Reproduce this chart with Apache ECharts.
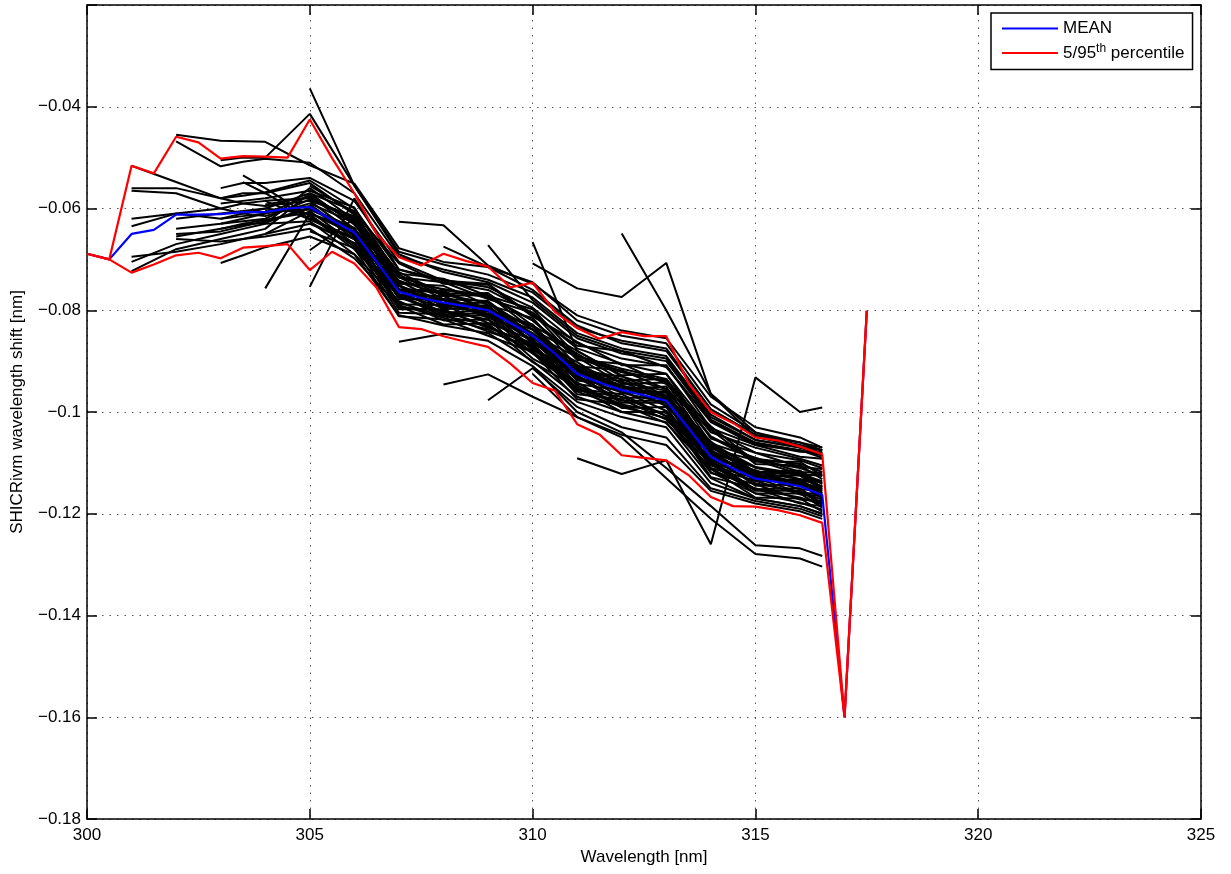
<!DOCTYPE html>
<html>
<head>
<meta charset="utf-8">
<script src="https://cdn.jsdelivr.net/npm/echarts@6.0.0/dist/echarts.min.js"></script>
<style>
html,body{margin:0;padding:0;background:#fff;}
#chart{width:1231px;height:874px;}
</style>
</head>
<body>
<div id="chart"></div>
<script>
const FONT = '"Liberation Sans", Arial, Helvetica, sans-serif';

// Axis ticks and labels
const xTicks = [300, 305, 310, 315, 320, 325];
const yTicks = [-0.18, -0.16, -0.14, -0.12, -0.1, -0.08, -0.06, -0.04];
const yTickLabels = ['\u22120.18', '\u22120.16', '\u22120.14', '\u22120.12', '\u22120.1', '\u22120.08', '\u22120.06', '\u22120.04'];
const yUpper = -0.02;

// Statistics (mean, 5th and 95th percentile)
const statWavelengths = [300, 300.5, 301, 301.5, 302, 302.5, 303, 303.5, 304, 304.5, 305, 305.5, 306, 306.5, 307, 307.5, 308, 308.5, 309, 309.5, 310, 310.5, 311, 311.5, 312, 312.5, 313, 313.5, 314, 314.5, 315, 315.5, 316, 316.5, 317, 317.5];
const meanShift = [-0.0689, -0.0700, -0.0650, -0.0642, -0.0612, -0.0612, -0.0611, -0.0607, -0.0607, -0.0600, -0.0597, -0.0623, -0.0647, -0.0705, -0.0764, -0.0776, -0.0785, -0.0792, -0.0800, -0.0825, -0.0850, -0.0885, -0.0925, -0.0942, -0.0957, -0.0967, -0.0978, -0.1032, -0.1088, -0.1111, -0.1131, -0.1138, -0.1146, -0.1163, -0.1600, -0.0801];
const pct95Shift = [-0.0689, -0.0700, -0.0516, -0.0531, -0.0459, -0.0470, -0.0502, -0.0497, -0.0498, -0.0500, -0.0425, -0.0501, -0.0570, -0.0650, -0.0696, -0.0712, -0.0689, -0.0703, -0.0714, -0.0755, -0.0746, -0.0803, -0.0835, -0.0856, -0.0843, -0.0851, -0.0851, -0.0944, -0.1000, -0.1022, -0.1050, -0.1056, -0.1068, -0.1083, -0.1600, -0.0801];
const pct5Shift = [-0.0689, -0.0700, -0.0726, -0.0710, -0.0692, -0.0687, -0.0698, -0.0677, -0.0674, -0.0670, -0.0721, -0.0685, -0.0708, -0.0756, -0.0833, -0.0837, -0.0851, -0.0862, -0.0872, -0.0905, -0.0943, -0.0958, -0.1024, -0.1044, -0.1085, -0.1090, -0.1095, -0.1124, -0.1167, -0.1185, -0.1186, -0.1193, -0.1203, -0.1218, -0.1600, -0.0801];

// Individual runs (black)
const runWavelengths = [301, 302, 303, 303.5, 304, 305, 306, 307, 308, 309, 310, 311, 312, 313, 314, 315, 316, 316.5];
const run01 = [null, null, -0.0560, -0.0550, -0.0550, -0.0540, -0.0585, -0.0705, -0.0742, -0.0748, -0.0810, -0.0870, -0.0880, -0.0912, -0.1018, -0.1062, -0.1078, -0.1080];
const run02 = [null, null, -0.0580, -0.0570, -0.0570, -0.0550, -0.0612, -0.0728, -0.0738, -0.0772, -0.0798, -0.0890, -0.0915, -0.0935, -0.1040, -0.1070, -0.1092, -0.1105];
const run03 = [-0.0705, -0.0670, -0.0650, -0.0640, -0.0630, -0.0560, -0.0622, -0.0725, -0.0768, -0.0766, -0.0830, -0.0880, -0.0928, -0.0925, -0.1052, -0.1080, -0.1108, -0.1112];
const run04 = [-0.0723, -0.0680, -0.0660, -0.0650, -0.0640, -0.0570, -0.0605, -0.0748, -0.0752, -0.0790, -0.0815, -0.0910, -0.0918, -0.0955, -0.1035, -0.1102, -0.1105, -0.1132];
const run05 = [-0.0620, -0.0610, -0.0620, -0.0615, -0.0610, -0.0575, -0.0640, -0.0735, -0.0778, -0.0782, -0.0848, -0.0892, -0.0945, -0.0942, -0.1072, -0.1095, -0.1122, -0.1126];
const run06 = [-0.0635, -0.0610, -0.0600, -0.0590, -0.0585, -0.0580, -0.0618, -0.0760, -0.0765, -0.0800, -0.0828, -0.0918, -0.0930, -0.0968, -0.1058, -0.1118, -0.1115, -0.1142];
const run07 = [-0.0560, -0.0560, -0.0580, -0.0590, -0.0595, -0.0585, -0.0650, -0.0742, -0.0788, -0.0785, -0.0855, -0.0902, -0.0955, -0.0950, -0.1080, -0.1108, -0.1132, -0.1138];
const run08 = [-0.0565, -0.0570, -0.0600, -0.0610, -0.0615, -0.0590, -0.0628, -0.0770, -0.0772, -0.0808, -0.0838, -0.0925, -0.0940, -0.0978, -0.1068, -0.1125, -0.1125, -0.1152];
const run09 = [null, -0.0640, -0.0630, -0.0620, -0.0610, -0.0595, -0.0660, -0.0752, -0.0798, -0.0792, -0.0865, -0.0912, -0.0962, -0.0962, -0.1092, -0.1115, -0.1142, -0.1146];
const run10 = [null, -0.0650, -0.0645, -0.0635, -0.0625, -0.0600, -0.0638, -0.0778, -0.0780, -0.0815, -0.0845, -0.0935, -0.0948, -0.0988, -0.1075, -0.1135, -0.1132, -0.1160];
const run11 = [-0.0695, -0.0685, -0.0670, -0.0660, -0.0650, -0.0605, -0.0670, -0.0762, -0.0805, -0.0800, -0.0875, -0.0922, -0.0972, -0.0972, -0.1100, -0.1125, -0.1152, -0.1155];
const run12 = [null, null, -0.0620, -0.0610, -0.0600, -0.0610, -0.0648, -0.0788, -0.0790, -0.0825, -0.0858, -0.0945, -0.0958, -0.0998, -0.1085, -0.1145, -0.1142, -0.1170];
const run13 = [null, null, null, -0.0535, -0.0560, -0.0615, -0.0680, -0.0772, -0.0812, -0.0810, -0.0885, -0.0932, -0.0982, -0.0982, -0.1110, -0.1135, -0.1162, -0.1165];
const run14 = [null, null, null, -0.0548, -0.0570, -0.0620, -0.0658, -0.0798, -0.0798, -0.0835, -0.0865, -0.0955, -0.0965, -0.1008, -0.1095, -0.1152, -0.1150, -0.1180];
const run15 = [null, null, null, null, -0.0630, -0.0625, -0.0690, -0.0782, -0.0820, -0.0818, -0.0895, -0.0942, -0.0992, -0.0990, -0.1120, -0.1142, -0.1172, -0.1175];
const run16 = [null, null, null, null, -0.0650, -0.0630, -0.0668, -0.0805, -0.0808, -0.0842, -0.0872, -0.0965, -0.0975, -0.1015, -0.1102, -0.1160, -0.1160, -0.1188];
const run17 = [null, -0.0660, -0.0665, -0.0660, -0.0655, -0.0640, -0.0698, -0.0792, -0.0828, -0.0826, -0.0902, -0.0952, -0.1000, -0.1000, -0.1128, -0.1150, -0.1180, -0.1185];
const run18 = [null, null, null, null, null, -0.0645, -0.0678, -0.0812, -0.0818, -0.0850, -0.0882, -0.0975, -0.0985, -0.1022, -0.1112, -0.1168, -0.1170, -0.1196];
const run19 = [null, null, -0.0590, -0.0585, -0.0580, -0.0565, -0.0598, -0.0735, -0.0745, -0.0778, -0.0805, -0.0898, -0.0905, -0.0945, -0.1028, -0.1098, -0.1098, -0.1125];
const run20 = [null, -0.0620, -0.0610, -0.0605, -0.0600, -0.0570, -0.0632, -0.0730, -0.0772, -0.0770, -0.0838, -0.0885, -0.0938, -0.0935, -0.1062, -0.1090, -0.1118, -0.1120];
const run21 = [null, null, -0.0630, -0.0625, -0.0620, -0.0582, -0.0622, -0.0758, -0.0762, -0.0798, -0.0832, -0.0920, -0.0935, -0.0972, -0.1065, -0.1120, -0.1120, -0.1148];
const run22 = [null, null, null, null, null, -0.0592, -0.0655, -0.0750, -0.0792, -0.0790, -0.0862, -0.0908, -0.0960, -0.0960, -0.1088, -0.1115, -0.1145, -0.1148];
const run23 = [null, null, null, null, -0.0605, -0.0602, -0.0640, -0.0776, -0.0780, -0.0812, -0.0850, -0.0938, -0.0950, -0.0988, -0.1078, -0.1135, -0.1135, -0.1162];
const run24 = [null, null, null, null, null, -0.0612, -0.0675, -0.0770, -0.0808, -0.0806, -0.0878, -0.0928, -0.0978, -0.0978, -0.1105, -0.1130, -0.1158, -0.1162];
const run25 = [null, null, null, null, -0.0585, -0.0622, -0.0660, -0.0795, -0.0800, -0.0832, -0.0870, -0.0958, -0.0970, -0.1008, -0.1098, -0.1155, -0.1155, -0.1182];
const run26 = [null, null, null, null, null, -0.0555, -0.0608, -0.0708, -0.0748, -0.0750, -0.0812, -0.0862, -0.0908, -0.0908, -0.1032, -0.1065, -0.1088, -0.1092];
const run27 = [null, -0.0455, -0.0467, -0.0468, -0.0469, -0.0515, -0.0551, -0.0678, -0.0705, -0.0715, -0.0745, -0.0820, -0.0850, -0.0865, -0.0985, -0.1040, -0.1060, -0.1070];
const run28 = [null, -0.0468, -0.0517, -0.0508, -0.0502, -0.0510, -0.0570, -0.0695, -0.0720, -0.0740, -0.0775, -0.0845, -0.0875, -0.0890, -0.1005, -0.1055, -0.1070, -0.1080];
const run29 = [-0.0516, -0.0548, -0.0580, -0.0575, -0.0568, -0.0545, -0.0600, -0.0720, -0.0740, -0.0755, -0.0795, -0.0865, -0.0895, -0.0910, -0.1020, -0.1065, -0.1075, -0.1090];
const run30 = [null, null, -0.0505, -0.0500, -0.0500, -0.0414, -0.0555, -0.0685, -0.0710, -0.0730, -0.0765, -0.0835, -0.0860, -0.0875, -0.0995, -0.1045, -0.1060, -0.1075];
const run31 = [null, null, null, null, null, -0.0364, -0.0555, -0.0690, -0.0725, -0.0745, -0.0785, -0.0855, -0.0885, -0.0900, -0.1015, -0.1060, -0.1075, -0.1085];
const run32 = [null, null, null, null, -0.0757, -0.0610, -0.0640, -0.0760, -0.0780, -0.0795, -0.0850, -0.0920, -0.0950, -0.0970, -0.1080, -0.1125, -0.1140, -0.1155];
const run33 = [null, null, null, null, null, -0.0754, -0.0580, -0.0720, -0.0745, -0.0760, -0.0805, -0.0875, -0.0905, -0.0925, -0.1035, -0.1080, -0.1095, -0.1110];
const run34 = [null, null, null, null, null, -0.0682, -0.0620, -0.0735, -0.0760, -0.0775, -0.0820, -0.0890, -0.0920, -0.0940, -0.1050, -0.1095, -0.1110, -0.1125];
const run35 = [null, null, null, null, null, null, null, -0.0626, -0.0633, -0.0712, -0.0748, -0.0810, -0.0840, -0.0855, -0.0970, -0.1030, -0.1050, -0.1070];
const run36 = [null, null, null, null, null, null, null, null, -0.0675, -0.0715, -0.0760, -0.0830, -0.0865, -0.0880, -0.0995, -0.1045, -0.1065, -0.1075];
const run37 = [null, null, null, null, null, null, null, null, null, -0.0672, -0.0780, -0.0850, -0.0880, -0.0895, -0.1010, -0.1055, -0.1070, -0.1085];
const run38 = [null, null, null, null, null, null, null, null, null, null, -0.0666, -0.0880, -0.0930, -0.0955, -0.1065, -0.1110, -0.1125, -0.1140];
const run39 = [null, null, null, null, null, null, null, null, null, null, -0.0708, -0.0757, -0.0774, -0.0707, -0.0965, -0.1049, -0.1068, -0.1075];
const run40 = [null, null, null, null, null, null, null, null, null, null, null, null, -0.0649, -0.0800, -0.0964, -0.1040, -0.1070, -0.1080];
const run41 = [null, null, null, null, null, null, null, -0.0862, -0.0846, -0.0860, -0.0910, -0.0980, -0.1010, -0.1030, -0.1140, -0.1170, -0.1185, -0.1200];
const run42 = [null, null, null, null, null, null, null, null, -0.0946, -0.0926, -0.0970, -0.1010, -0.1045, -0.1065, -0.1155, -0.1180, -0.1195, -0.1210];
const run43 = [null, null, null, null, null, null, null, null, null, -0.0977, -0.0914, -0.0990, -0.1030, -0.1050, -0.1150, -0.1175, -0.1190, -0.1205];
const run44 = [null, null, null, null, null, null, null, null, null, null, null, -0.1091, -0.1122, -0.1095, -0.1260, -0.0932, -0.1000, -0.0991];
const run45 = [null, null, null, null, null, null, null, null, null, null, -0.0910, -0.1000, -0.1040, -0.1110, -0.1185, -0.1262, -0.1268, -0.1283];
const run46 = [null, null, null, null, null, null, null, null, null, null, -0.0925, -0.1010, -0.1050, -0.1130, -0.1210, -0.1279, -0.1288, -0.1304];
const run47 = [null, null, -0.0707, -0.0692, -0.0676, -0.0655, -0.0690, -0.0810, -0.0830, -0.0845, -0.0900, -0.0970, -0.1000, -0.1020, -0.1130, -0.1170, -0.1185, -0.1200];
const run48 = [null, null, null, null, null, -0.0600, -0.0645, -0.0790, -0.0815, -0.0838, -0.0880, -0.0960, -0.0990, -0.1012, -0.1118, -0.1160, -0.1178, -0.1192];
const run49 = [null, null, null, null, null, -0.0585, -0.0615, -0.0745, -0.0758, -0.0772, -0.0820, -0.0895, -0.0922, -0.0940, -0.1048, -0.1092, -0.1102, -0.1118];
const run50 = [null, null, -0.0640, -0.0632, -0.0628, -0.0598, -0.0648, -0.0768, -0.0795, -0.0802, -0.0862, -0.0930, -0.0962, -0.0982, -0.1082, -0.1128, -0.1145, -0.1158];
const run51 = [null, null, null, null, null, -0.0620, -0.0660, -0.0775, -0.0802, -0.0818, -0.0868, -0.0948, -0.0985, -0.1002, -0.1092, -0.1140, -0.1158, -0.1172];
const run52 = [null, null, null, null, null, -0.0572, -0.0630, -0.0742, -0.0770, -0.0785, -0.0838, -0.0908, -0.0942, -0.0958, -0.1062, -0.1108, -0.1122, -0.1136];
const run53 = [null, -0.0655, -0.0640, -0.0630, -0.0622, -0.0608, -0.0652, -0.0762, -0.0788, -0.0808, -0.0858, -0.0925, -0.0950, -0.0975, -0.1085, -0.1122, -0.1138, -0.1152];
const run54 = [null, null, null, null, -0.0592, -0.0578, -0.0626, -0.0752, -0.0780, -0.0795, -0.0845, -0.0915, -0.0948, -0.0968, -0.1075, -0.1118, -0.1132, -0.1146];
const run55 = [null, null, null, null, null, -0.0628, -0.0668, -0.0785, -0.0812, -0.0828, -0.0885, -0.0952, -0.0988, -0.1012, -0.1112, -0.1152, -0.1168, -0.1182];

const runs = [run01, run02, run03, run04, run05, run06, run07, run08, run09, run10,
  run11, run12, run13, run14, run15, run16, run17, run18, run19, run20,
  run21, run22, run23, run24, run25, run26, run27, run28, run29, run30,
  run31, run32, run33, run34, run35, run36, run37, run38, run39, run40,
  run41, run42, run43, run44, run45, run46, run47, run48, run49, run50,
  run51, run52, run53, run54, run55];

const MEAN_NAME = 'MEAN';
const PCT_NAME = '5/95th percentile';

const pairs = (xs, ys) => xs.map((x, i) => [x, ys[i]]).filter(p => p[1] !== null);

const series = [];
runs.forEach(r => {
  series.push({
    type: 'line', data: pairs(runWavelengths, r),
    showSymbol: false, symbol: 'none', silent: true, animation: false,
    lineStyle: { color: '#000', width: 2 }, itemStyle: { color: '#000' }
  });
});
series.push({
  name: MEAN_NAME, type: 'line', data: pairs(statWavelengths, meanShift),
  showSymbol: false, symbol: 'none', silent: true, animation: false,
  lineStyle: { color: '#0000ff', width: 2.2 }, itemStyle: { color: '#0000ff' }
});
[pct5Shift, pct95Shift].forEach(p => {
  series.push({
    name: PCT_NAME, type: 'line', data: pairs(statWavelengths, p),
    showSymbol: false, symbol: 'none', silent: true, animation: false,
    lineStyle: { color: '#ff0000', width: 2.2 }, itemStyle: { color: '#ff0000' }
  });
});

const yLabel = v => {
  const i = yTicks.findIndex(t => Math.abs(t - v) < 1e-9);
  return i >= 0 ? yTickLabels[i] : '';
};

const axisLineStyle = { color: '#000', width: 1.5 };
const gridLineStyle = { color: '#555', width: 1, type: [1.5, 6] };

const chart = echarts.init(document.getElementById('chart'), null, { renderer: 'canvas' });
chart.setOption({
  animation: false,
  backgroundColor: '#fff',
  grid: { left: 87, right: 30, top: 5, bottom: 55, containLabel: false },
  legend: {
    data: [MEAN_NAME, PCT_NAME],
    orient: 'vertical', left: 991, top: 13,
    padding: [7, 8, 8, 11], itemGap: 6,
    itemWidth: 56, itemHeight: 2, icon: 'rect',
    backgroundColor: '#fff', borderColor: '#000', borderWidth: 1.5, borderRadius: 0,
    selectedMode: false,
    textStyle: {
      color: '#000', fontFamily: FONT, fontSize: 17,
      rich: {
        n: { fontFamily: FONT, fontSize: 17, color: '#000', lineHeight: 20 },
        s: { fontFamily: FONT, fontSize: 12, color: '#000', lineHeight: 12, verticalAlign: 'top' }
      }
    },
    formatter: name => name === PCT_NAME ? '{n|5/95}{s|th}{n| percentile}' : '{n|' + name + '}'
  },
  xAxis: [{
    type: 'value', position: 'bottom',
    min: xTicks[0], max: xTicks[xTicks.length - 1], interval: xTicks[1] - xTicks[0],
    axisLine: { show: true, onZero: false, lineStyle: axisLineStyle },
    axisTick: { show: true, inside: true, length: 10, lineStyle: axisLineStyle },
    axisLabel: { color: '#000', fontFamily: FONT, fontSize: 17, margin: 8 },
    splitLine: { show: true, lineStyle: gridLineStyle },
    name: 'Wavelength [nm]', nameLocation: 'middle', nameGap: 28,
    nameTextStyle: { color: '#000', fontFamily: FONT, fontSize: 17 }
  }, {
    type: 'value', position: 'top',
    min: xTicks[0], max: xTicks[xTicks.length - 1], interval: xTicks[1] - xTicks[0],
    axisLine: { show: true, onZero: false, lineStyle: axisLineStyle },
    axisTick: { show: true, inside: true, length: 10, lineStyle: axisLineStyle },
    axisLabel: { show: false }, splitLine: { show: false }
  }],
  yAxis: [{
    type: 'value', position: 'left',
    min: yTicks[0], max: yUpper, interval: yTicks[1] - yTicks[0],
    axisLine: { show: true, onZero: false, lineStyle: axisLineStyle },
    axisTick: { show: true, inside: true, length: 10, lineStyle: axisLineStyle },
    axisLabel: { color: '#000', fontFamily: FONT, fontSize: 17, margin: 6, formatter: yLabel },
    splitLine: { show: true, lineStyle: gridLineStyle },
    name: 'SHICRivm wavelength shift [nm]', nameLocation: 'middle', nameGap: 61,
    nameTextStyle: { color: '#000', fontFamily: FONT, fontSize: 17 }
  }, {
    type: 'value', position: 'right',
    min: yTicks[0], max: yUpper, interval: yTicks[1] - yTicks[0],
    axisLine: { show: true, onZero: false, lineStyle: axisLineStyle },
    axisTick: { show: true, inside: true, length: 10, lineStyle: axisLineStyle },
    axisLabel: { show: false }, splitLine: { show: false }
  }],
  series: series
});
</script>
</body>
</html>
